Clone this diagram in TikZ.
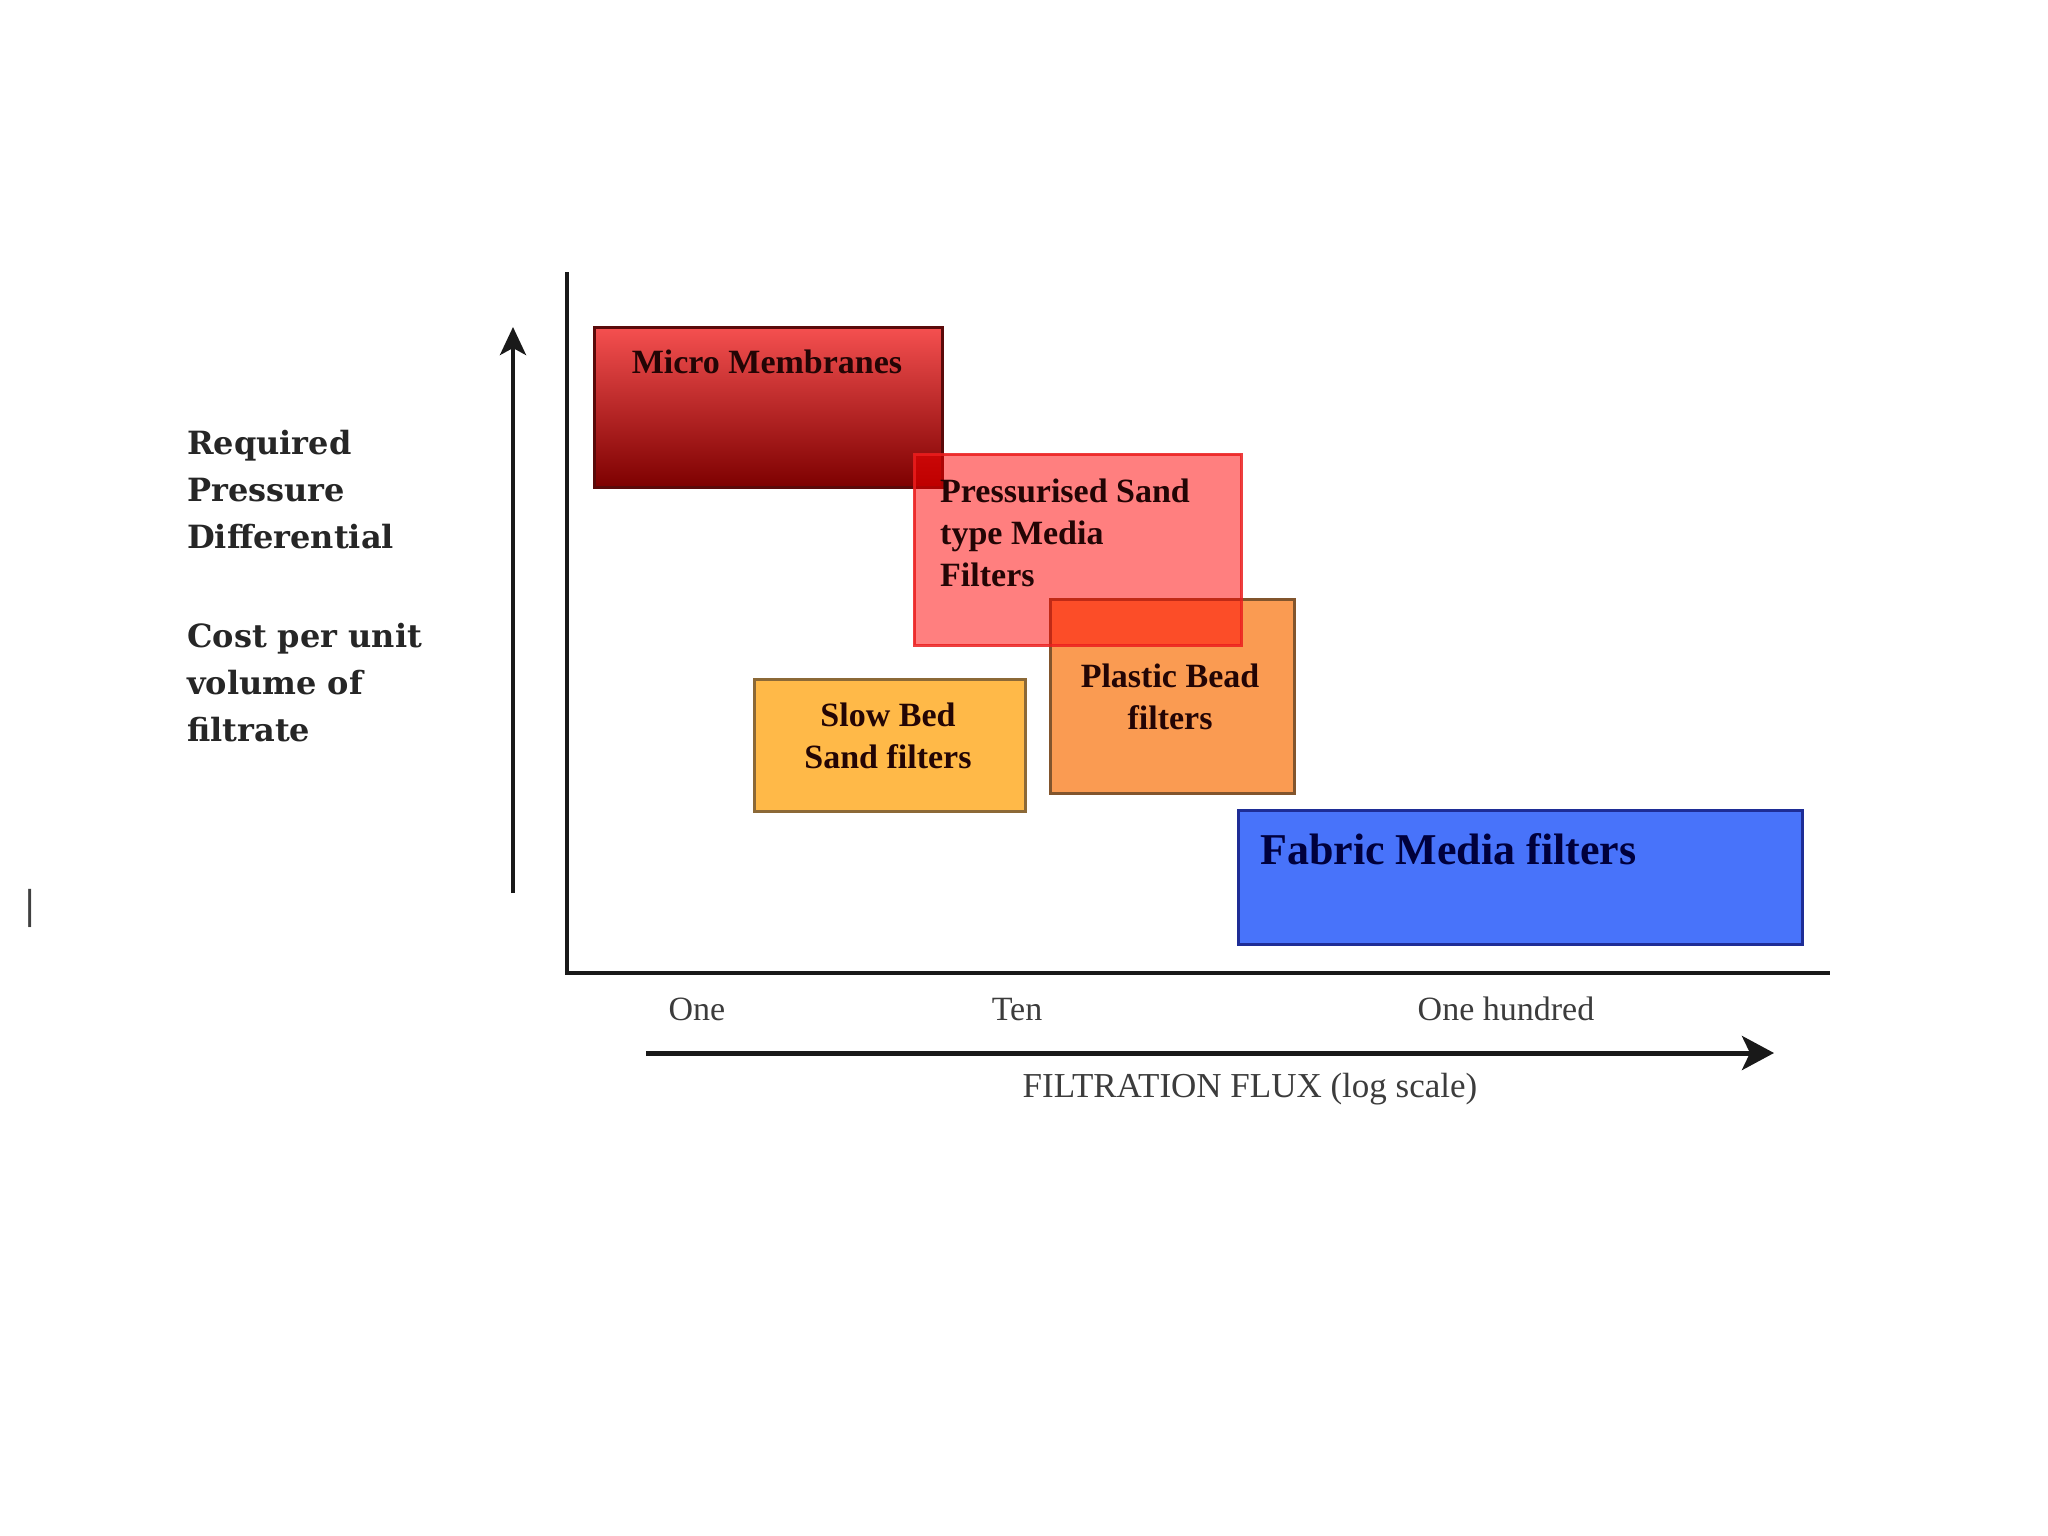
\documentclass[tikz,border=0pt]{standalone}
\usepackage{fontspec}
\setmainfont{Liberation Serif}
\newfontfamily\leftfont{DejaVu Serif}
\usetikzlibrary{arrows.meta}
\definecolor{mmtop}{RGB}{245,80,80}
\definecolor{mmmid}{RGB}{210,30,30}
\definecolor{mmbot}{RGB}{125,0,0}
\definecolor{mmedge}{RGB}{90,10,10}
\definecolor{psedge}{RGB}{235,30,30}
\definecolor{pbfill}{RGB}{250,155,82}
\definecolor{pbedge}{RGB}{130,85,45}
\definecolor{sbfill}{RGB}{255,185,72}
\definecolor{sbedge}{RGB}{140,105,55}
\definecolor{fbfill}{RGB}{72,115,250}
\definecolor{fbedge}{RGB}{30,45,150}
\definecolor{fbtext}{RGB}{0,0,60}
\definecolor{boxtext}{RGB}{35,5,5}
\definecolor{axtext}{RGB}{60,60,60}
\tikzset{
  box/.style={draw, line width=3, inner sep=0, outer sep=0},
  boxlabel/.style={inner sep=0, text=boxtext, font=\bfseries\fontsize{34}{42}\selectfont},
  sidelabel/.style={inner sep=0, align=left, text=black!85, font=\leftfont\bfseries\fontsize{32}{47}\selectfont},
  ticklabel/.style={inner sep=0, text=axtext, font=\fontsize{34}{40}\selectfont},
  axisline/.style={line width=4.5, black!90},
}
\begin{document}
\begin{tikzpicture}[x=1pt, y=-1pt]
\useasboundingbox[fill=white] (0,0) rectangle (2048,1536);

% axes
\coordinate (ytop) at (567,272);
\coordinate (origin) at (567,973);
\coordinate (xend) at (1830,973);
\draw[axisline] (ytop) -- (origin) -- (xend);

% direction arrows
\coordinate (upstart) at (513,893);
\coordinate (uptip) at (513,327);
\draw[line width=4, black!90, -{Stealth[length=28, width=26, inset=7]}] (upstart) -- (uptip);
\coordinate (rstart) at (646,1053);
\coordinate (rtip) at (1774,1053);
\draw[line width=5, black!90, -{Stealth[length=32, width=34, inset=8]}] (rstart) -- (rtip);

% boxes
\node[box, draw=mmedge, top color=mmtop, middle color=mmmid, bottom color=mmbot,
      minimum width=348, minimum height=160] (mm) at (768,407) {};
\node[box, draw=pbedge, fill=pbfill, minimum width=244, minimum height=194] (pb) at (1172,696) {};
\node[box, draw=sbedge, fill=sbfill, minimum width=271, minimum height=132] (sb) at (889.5,745) {};
\node[box, draw=psedge, draw opacity=0.85, fill=red, fill opacity=0.5,
      minimum width=327, minimum height=191] (ps) at (1077.5,549.5) {};
\node[box, draw=fbedge, fill=fbfill, minimum width=564, minimum height=134] (fb) at (1520,877) {};

% box labels (base anchor = baseline of last line)
\node[boxlabel, anchor=base] (mmt) at (767,373) {Micro Membranes};
\node[boxlabel, anchor=base west, align=left] (pst) at (940,586) {Pressurised Sand\\type Media\\Filters};
\node[boxlabel, anchor=base, align=center] (pbt) at (1170,729) {Plastic Bead\\filters};
\node[boxlabel, anchor=base, align=center] (sbt) at (888,768) {Slow Bed\\Sand filters};
\node[inner sep=0, text=fbtext, font=\bfseries\fontsize{44}{50}\selectfont, anchor=base west] (fbt) at (1260,864) {Fabric Media filters};

% side labels
\node[sidelabel, anchor=base west] (req) at (187,548) {Required\\Pressure\\Differential};
\node[sidelabel, anchor=base west] (cost) at (187,741) {Cost per unit\\volume of\\filtrate};

% stray bar
\node[inner sep=0, text=black!75, font=\bfseries\fontsize{42}{44}\selectfont] (bar) at (30,908) {|};

% tick labels
\node[ticklabel, anchor=base] (one) at (697,1020) {One};
\node[ticklabel, anchor=base] (ten) at (1017,1020) {Ten};
\node[ticklabel, anchor=base] (hund) at (1506,1020) {One hundred};
\node[inner sep=0, text=axtext, font=\fontsize{35}{40}\selectfont, anchor=base] (flux) at (1250,1097) {FILTRATION FLUX (log scale)};
\end{tikzpicture}
\end{document}
